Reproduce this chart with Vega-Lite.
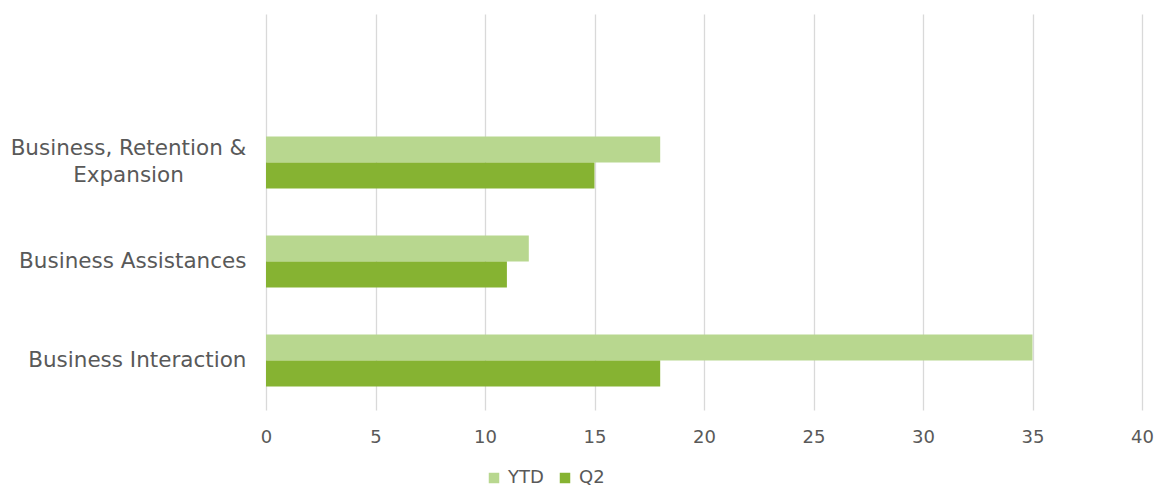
{
  "$schema": "https://vega.github.io/schema/vega-lite/v6.json",
  "width": 876,
  "height": 396,
  "autosize": "none",
  "padding": {"left": 266, "top": 14, "right": 17, "bottom": 77},
  "background": "white",
  "config": {
    "font": "DejaVu Sans",
    "view": {"stroke": null},
    "axis": {"labelColor": "#595959", "labelFont": "DejaVu Sans", "labelFontSize": 18},
    "legend": {"labelColor": "#595959", "labelFont": "DejaVu Sans", "labelFontSize": 18}
  },
  "data": {
    "values": [
      {"category": "Business, Retention & Expansion", "series": "YTD", "value": 18},
      {"category": "Business, Retention & Expansion", "series": "Q2", "value": 15},
      {"category": "Business Assistances", "series": "YTD", "value": 12},
      {"category": "Business Assistances", "series": "Q2", "value": 11},
      {"category": "Business Interaction", "series": "YTD", "value": 35},
      {"category": "Business Interaction", "series": "Q2", "value": 18}
    ]
  },
  "mark": {"type": "bar"},
  "encoding": {
    "y": {
      "field": "category",
      "type": "nominal",
      "scale": {
        "domain": ["", "Business, Retention & Expansion", "Business Assistances", "Business Interaction"],
        "paddingInner": 0.475,
        "paddingOuter": 0.2375
      },
      "axis": {
        "title": null,
        "domain": false,
        "ticks": false,
        "labelFontSize": 21.5,
        "labelLimit": 0,
        "labelLineHeight": 27,
        "labelAlign": {"condition": {"test": "datum.value == 'Business, Retention & Expansion'", "value": "center"}, "value": "right"},
        "labelPadding": {"condition": {"test": "datum.value == 'Business, Retention & Expansion'", "value": 138}, "value": 20},
        "labelOffset": {"condition": {"test": "datum.value == 'Business, Retention & Expansion'", "value": -13.5}, "value": 0},
        "labelExpr": "datum.value == 'Business, Retention & Expansion' ? ['Business, Retention &', 'Expansion'] : datum.value"
      }
    },
    "yOffset": {
      "field": "series",
      "type": "nominal",
      "sort": ["YTD", "Q2"],
      "scale": {"paddingInner": 0, "paddingOuter": 0}
    },
    "x": {
      "field": "value",
      "type": "quantitative",
      "scale": {"domain": [0, 40], "nice": false},
      "axis": {
        "title": null,
        "values": [0, 5, 10, 15, 20, 25, 30, 35, 40],
        "domain": false,
        "ticks": false,
        "grid": true,
        "gridColor": "#D9D9D9",
        "gridWidth": 1.3,
        "labelFlush": false,
        "labelPadding": 18
      }
    },
    "color": {
      "field": "series",
      "type": "nominal",
      "sort": ["YTD", "Q2"],
      "scale": {"domain": ["YTD", "Q2"], "range": ["#B8D78F", "#86B332"]},
      "legend": {
        "title": null,
        "orient": "none",
        "direction": "horizontal",
        "legendX": 219,
        "legendY": 455,
        "symbolType": "square",
        "symbolSize": 110,
        "symbolStrokeWidth": 0,
        "labelOffset": 5,
        "columnPadding": 12
      }
    }
  }
}
